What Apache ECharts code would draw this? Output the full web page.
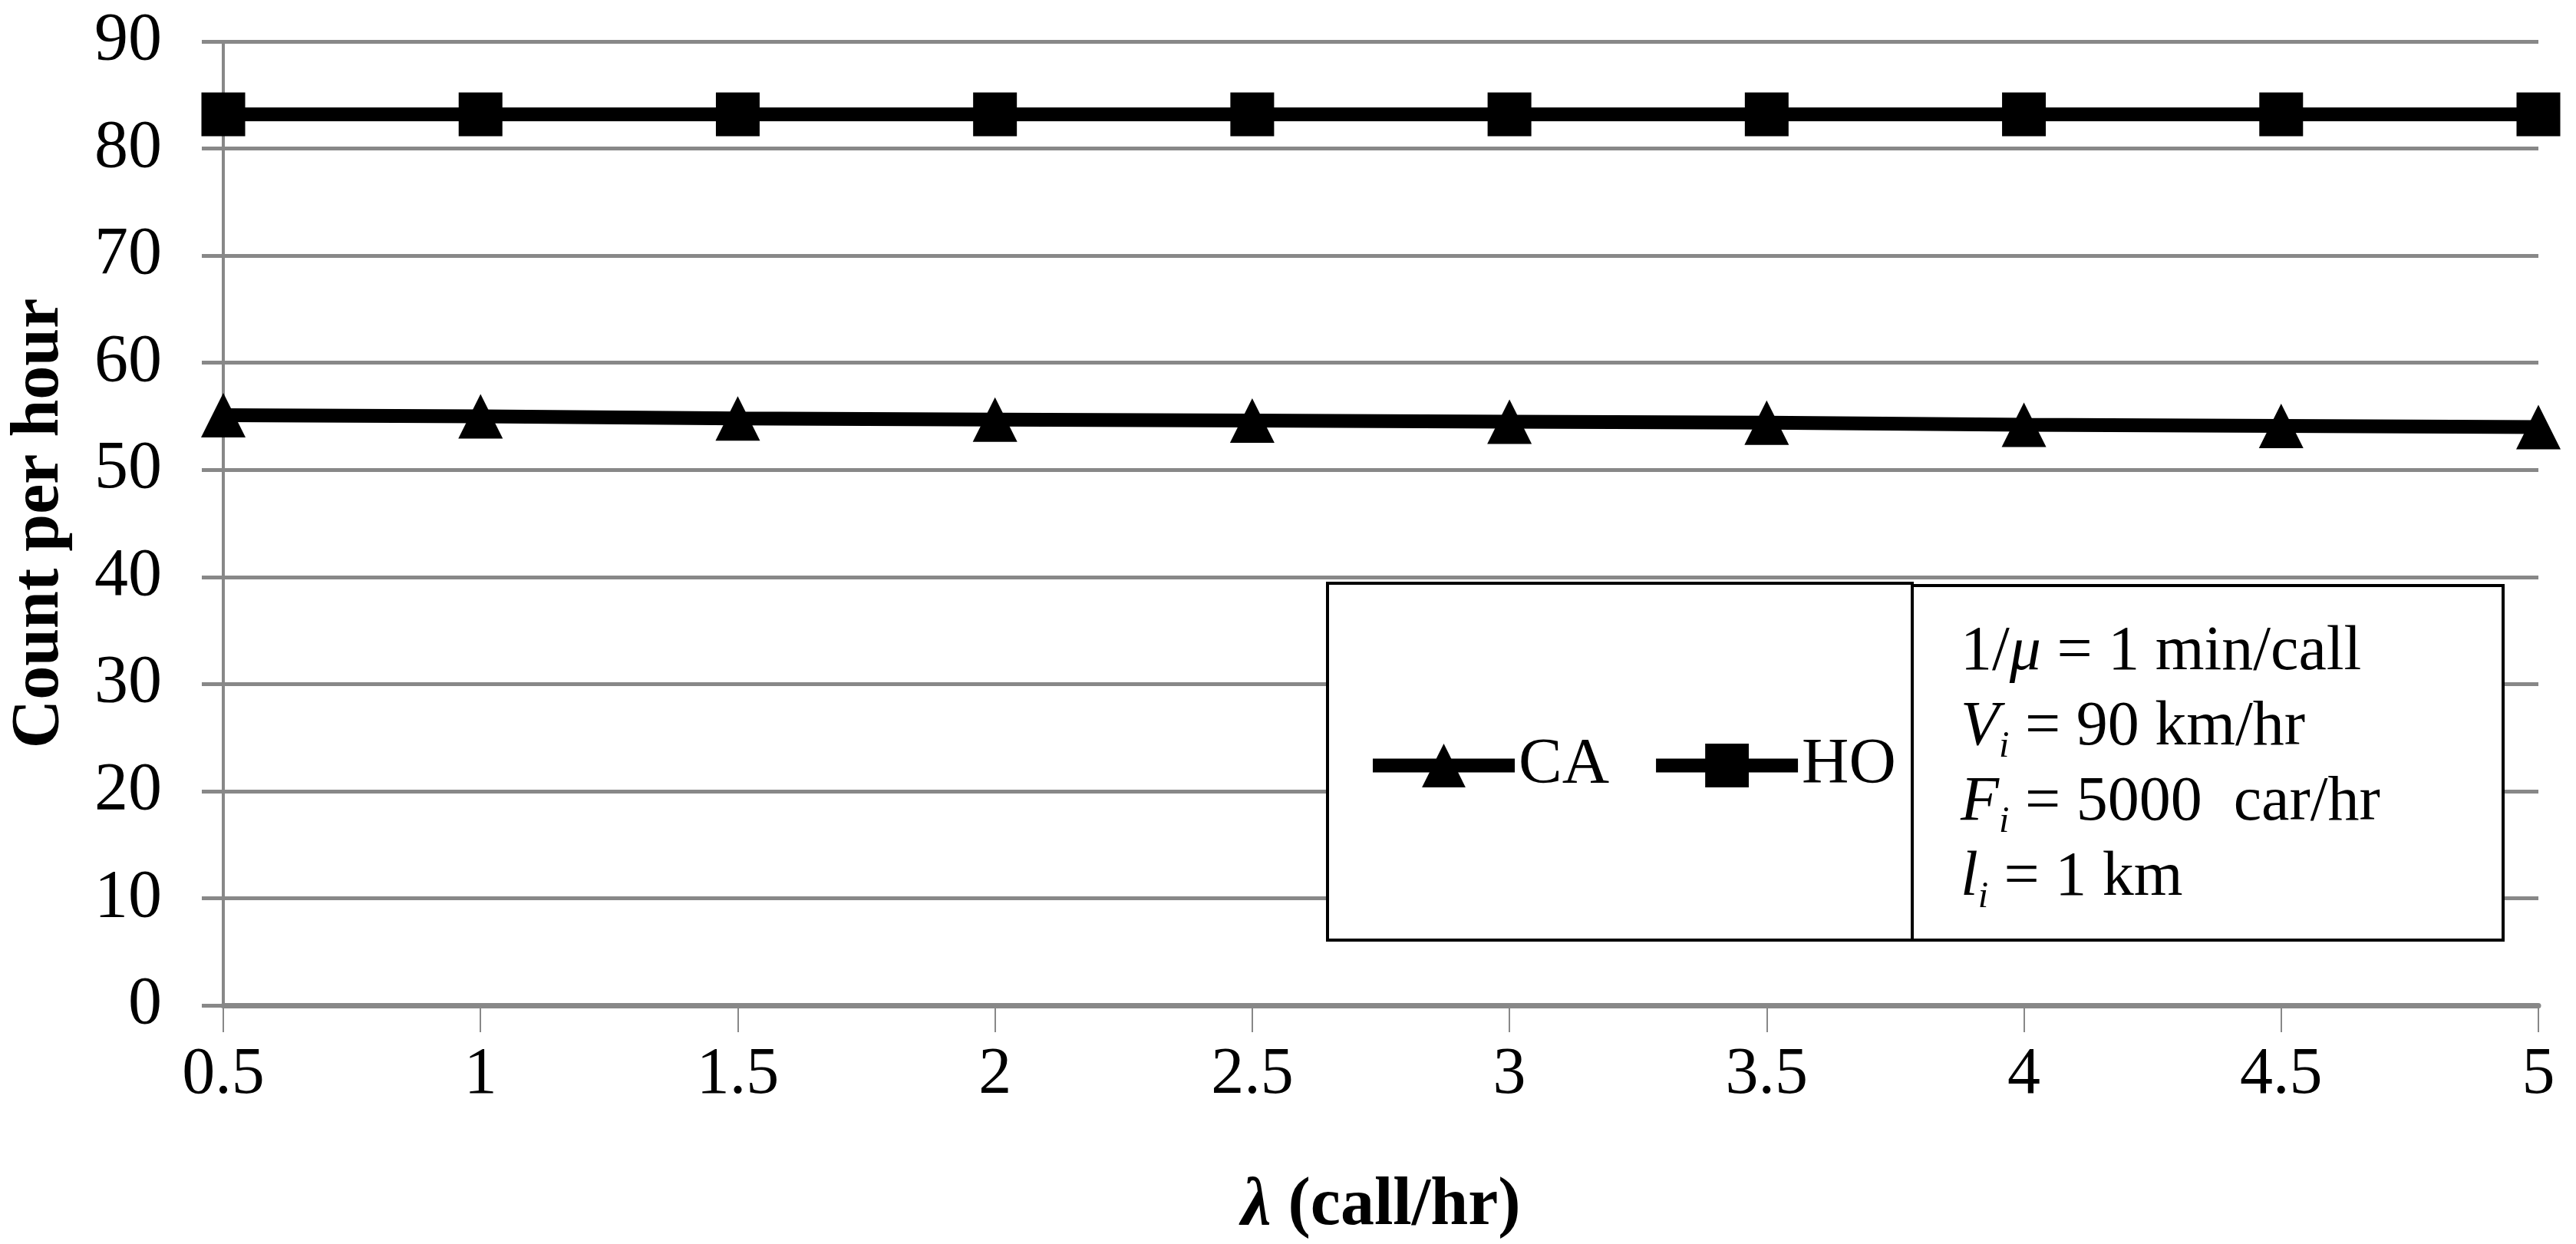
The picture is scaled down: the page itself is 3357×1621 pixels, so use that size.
<!DOCTYPE html>
<html>
<head>
<meta charset="utf-8">
<script src="https://cdn.jsdelivr.net/npm/echarts@6/dist/echarts.min.js"></script>
<style>
  html, body { margin: 0; padding: 0; background: #fff; }
  #chart { width: 3357px; height: 1621px; }
</style>
</head>
<body>
<div id="chart"></div>
<script>
var lambdas = ['0.5', '1', '1.5', '2', '2.5', '3', '3.5', '4', '4.5', '5'];
var caValues = [55.1, 55.0, 54.8, 54.7, 54.6, 54.5, 54.4, 54.2, 54.1, 54.0];
var hoValues = [83.2, 83.2, 83.2, 83.2, 83.2, 83.2, 83.2, 83.2, 83.2, 83.2];
var paramLines = [
    '1/{i|\u03bc} = 1 min/call',
    '{i|V}{s|i} = 90 km/hr',
    '{i|F}{s|i} = 5000  car/hr',
    '{i|l}{s|i} = 1 km'
];

var serif = '"Liberation Serif", "Times New Roman", serif';
var gridGray = '#888888';

var chart = echarts.init(document.getElementById('chart'));

var option = {
    backgroundColor: '#fff',
    animation: false,
    grid: {
        left: 291,
        right: 49,
        top: 54,
        bottom: 308
    },
    legend: {
        data: ['CA', 'HO'],
        left: 1780,
        top: 955,
        z: 100,
        padding: 0,
        itemWidth: 185,
        itemHeight: 71,
        itemGap: 52,
        lineStyle: { width: 18 },
        textStyle: { fontFamily: serif, fontSize: 85, color: '#000' }
    },
    xAxis: {
        type: 'category',
        data: lambdas,
        boundaryGap: false,
        name: '{l|\u03bb} (call/hr)',
        nameLocation: 'middle',
        nameGap: 218,
        nameTextStyle: {
            fontFamily: serif, fontSize: 88, fontWeight: 'bold', color: '#000',
            rich: { l: { fontFamily: serif, fontSize: 88, fontWeight: 'bold', fontStyle: 'italic', color: '#000' } }
        },
        axisLine: { lineStyle: { color: gridGray, width: 7 } },
        axisTick: { show: true, alignWithLabel: true, length: 35, lineStyle: { color: gridGray, width: 2 } },
        axisLabel: { margin: 48, fontFamily: serif, fontSize: 86, color: '#000' },
        splitLine: { show: false }
    },
    yAxis: {
        type: 'value',
        min: 0,
        max: 90,
        interval: 10,
        name: 'Count per hour',
        nameLocation: 'middle',
        nameGap: 195,
        nameTextStyle: { fontFamily: serif, fontSize: 88, fontWeight: 'bold', color: '#000' },
        axisLine: { show: true, lineStyle: { color: gridGray, width: 4 } },
        axisTick: { show: true, length: 28, lineStyle: { color: gridGray, width: 5 } },
        axisLabel: { margin: 80, fontFamily: serif, fontSize: 88, color: '#000' },
        splitLine: { show: true, lineStyle: { color: gridGray, width: 5 } }
    },
    series: [
        {
            name: 'CA',
            type: 'line',
            data: caValues,
            symbol: 'triangle',
            symbolSize: 58,
            lineStyle: { color: '#000', width: 18 },
            itemStyle: { color: '#000' },
            z: 3
        },
        {
            name: 'HO',
            type: 'line',
            data: hoValues,
            symbol: 'rect',
            symbolSize: 57,
            lineStyle: { color: '#000', width: 18 },
            itemStyle: { color: '#000' },
            z: 3
        }
    ],
    graphic: [
        {
            type: 'rect',
            z: 50,
            shape: { x: 1730, y: 760, width: 762, height: 465 },
            style: { fill: '#fff', stroke: '#000', lineWidth: 4 }
        },
        {
            type: 'rect',
            z: 50,
            shape: { x: 2492, y: 763, width: 770, height: 462 },
            style: { fill: '#fff', stroke: '#000', lineWidth: 4 }
        },
        {
            type: 'text',
            z: 60,
            left: 2555,
            top: 801,
            style: {
                text: paramLines.join('\n'),
                fontFamily: serif,
                fontSize: 82,
                lineHeight: 98,
                fill: '#000',
                rich: {
                    i: { fontFamily: serif, fontSize: 82, fontStyle: 'italic', lineHeight: 98, fill: '#000' },
                    s: { fontFamily: serif, fontSize: 48, fontStyle: 'italic', lineHeight: 46, verticalAlign: 'bottom', fill: '#000' }
                }
            }
        }
    ]
};

chart.setOption(option);
</script>
</body>
</html>
